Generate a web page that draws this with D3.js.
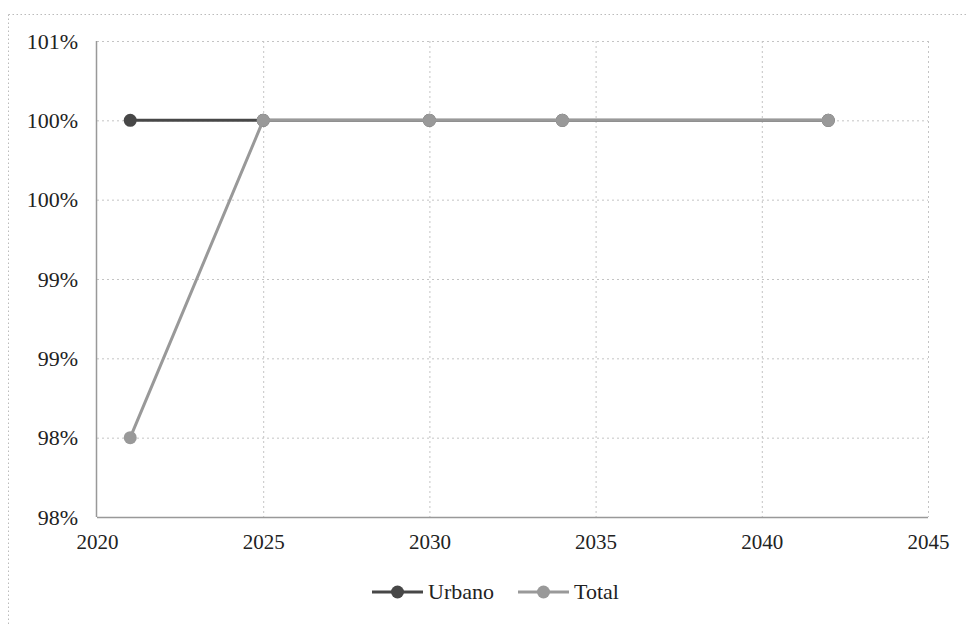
<!DOCTYPE html>
<html><head><meta charset="utf-8">
<script src="https://cdn.jsdelivr.net/npm/d3@7"></script>
<style>html,body{margin:0;padding:0;background:#fff;}svg{display:block;}</style>
</head><body>
<script>
const years = [2021, 2025, 2030, 2034, 2042];
const urbano = [100, 100, 100, 100, 100];
const total = [98, 100, 100, 100, 100];
const yTickValues = [97.5, 98, 98.5, 99, 99.5, 100, 100.5];
const yTickLabels = ["98%", "98%", "99%", "99%", "100%", "100%", "101%"];
const xTickValues = [2020, 2025, 2030, 2035, 2040, 2045];
const seriesNames = ["Urbano", "Total"];
const seriesColors = ["#474747", "#999999"];

const W = 966, H = 625;
const m = {left: 97, right: 38, top: 41, bottom: 108};
const svg = d3.select("body").append("svg").attr("width", W).attr("height", H);
const font = "'Liberation Serif', 'Times New Roman', serif";

// outer border (top and left visible)
svg.append("line").attr("x1", 8.5).attr("x2", W).attr("y1", 14.5).attr("y2", 14.5)
  .attr("stroke", "#bbb").attr("stroke-dasharray", "1.5,2.5");
svg.append("line").attr("x1", 8.5).attr("x2", 8.5).attr("y1", 14.5).attr("y2", H)
  .attr("stroke", "#bbb").attr("stroke-dasharray", "1.5,2.5");

const x = d3.scaleLinear().domain([2020, 2045]).range([m.left, W - m.right]);
const y = d3.scaleLinear().domain([97.5, 100.5]).range([H - m.bottom, m.top]);

const g = svg.append("g");
g.selectAll(".hg").data(yTickValues.filter(v => v > 97.5)).join("line")
  .attr("x1", x(2020)).attr("x2", x(2045)).attr("y1", d => y(d) + 0.5).attr("y2", d => y(d) + 0.5)
  .attr("stroke", "#c4c4c4").attr("stroke-dasharray", "2,3");
g.selectAll(".vg").data(xTickValues.filter(v => v > 2020)).join("line")
  .attr("y1", y(100.5)).attr("y2", y(97.5)).attr("x1", d => x(d) + 0.5).attr("x2", d => x(d) + 0.5)
  .attr("stroke", "#c4c4c4").attr("stroke-dasharray", "2,3");

g.append("line").attr("x1", x(2020) - 0.5).attr("x2", x(2020) - 0.5).attr("y1", y(100.5)).attr("y2", y(97.5))
  .attr("stroke", "#999").attr("stroke-width", 1.5);
g.append("line").attr("x1", x(2020)).attr("x2", x(2045)).attr("y1", y(97.5) + 0.5).attr("y2", y(97.5) + 0.5)
  .attr("stroke", "#999").attr("stroke-width", 1.5);

const yAxis = d3.axisLeft(y).tickValues(yTickValues).tickFormat((d, i) => yTickLabels[i]).tickSize(0).tickPadding(19);
const ya = svg.append("g").attr("transform", `translate(${x(2020)},0)`).call(yAxis);
ya.select(".domain").remove();
ya.selectAll("text").attr("font-family", font).attr("font-size", 22).attr("fill", "#222");

const xAxis = d3.axisBottom(x).tickValues(xTickValues).tickFormat(d3.format("d")).tickSize(0).tickPadding(17);
const xa = svg.append("g").attr("transform", `translate(0,${y(97.5)})`).call(xAxis);
xa.select(".domain").remove();
xa.selectAll("text").attr("font-family", font).attr("font-size", 21).attr("fill", "#222");

const line = d3.line().x(d => x(d[0])).y(d => y(d[1]));
const series = [urbano, total];
series.forEach((vals, si) => {
  const pts = years.map((yr, i) => [yr, vals[i]]);
  svg.append("path").datum(pts).attr("d", line).attr("fill", "none")
    .attr("stroke", seriesColors[si]).attr("stroke-width", 3);
  svg.selectAll(".pt" + si).data(pts).join("circle")
    .attr("cx", d => x(d[0])).attr("cy", d => y(d[1])).attr("r", 6.5)
    .attr("fill", seriesColors[si]);
});

const lg = svg.append("g");
const legendX = [372, 518];
seriesNames.forEach((name, i) => {
  const lx = legendX[i], ly = 592;
  lg.append("line").attr("x1", lx).attr("x2", lx + 51).attr("y1", ly).attr("y2", ly)
    .attr("stroke", seriesColors[i]).attr("stroke-width", 3);
  lg.append("circle").attr("cx", lx + 25.5).attr("cy", ly).attr("r", 6.5).attr("fill", seriesColors[i]);
  lg.append("text").attr("x", lx + 56).attr("y", ly + 7).text(name)
    .attr("font-family", font).attr("font-size", 22).attr("fill", "#222");
});
</script>
</body></html>
